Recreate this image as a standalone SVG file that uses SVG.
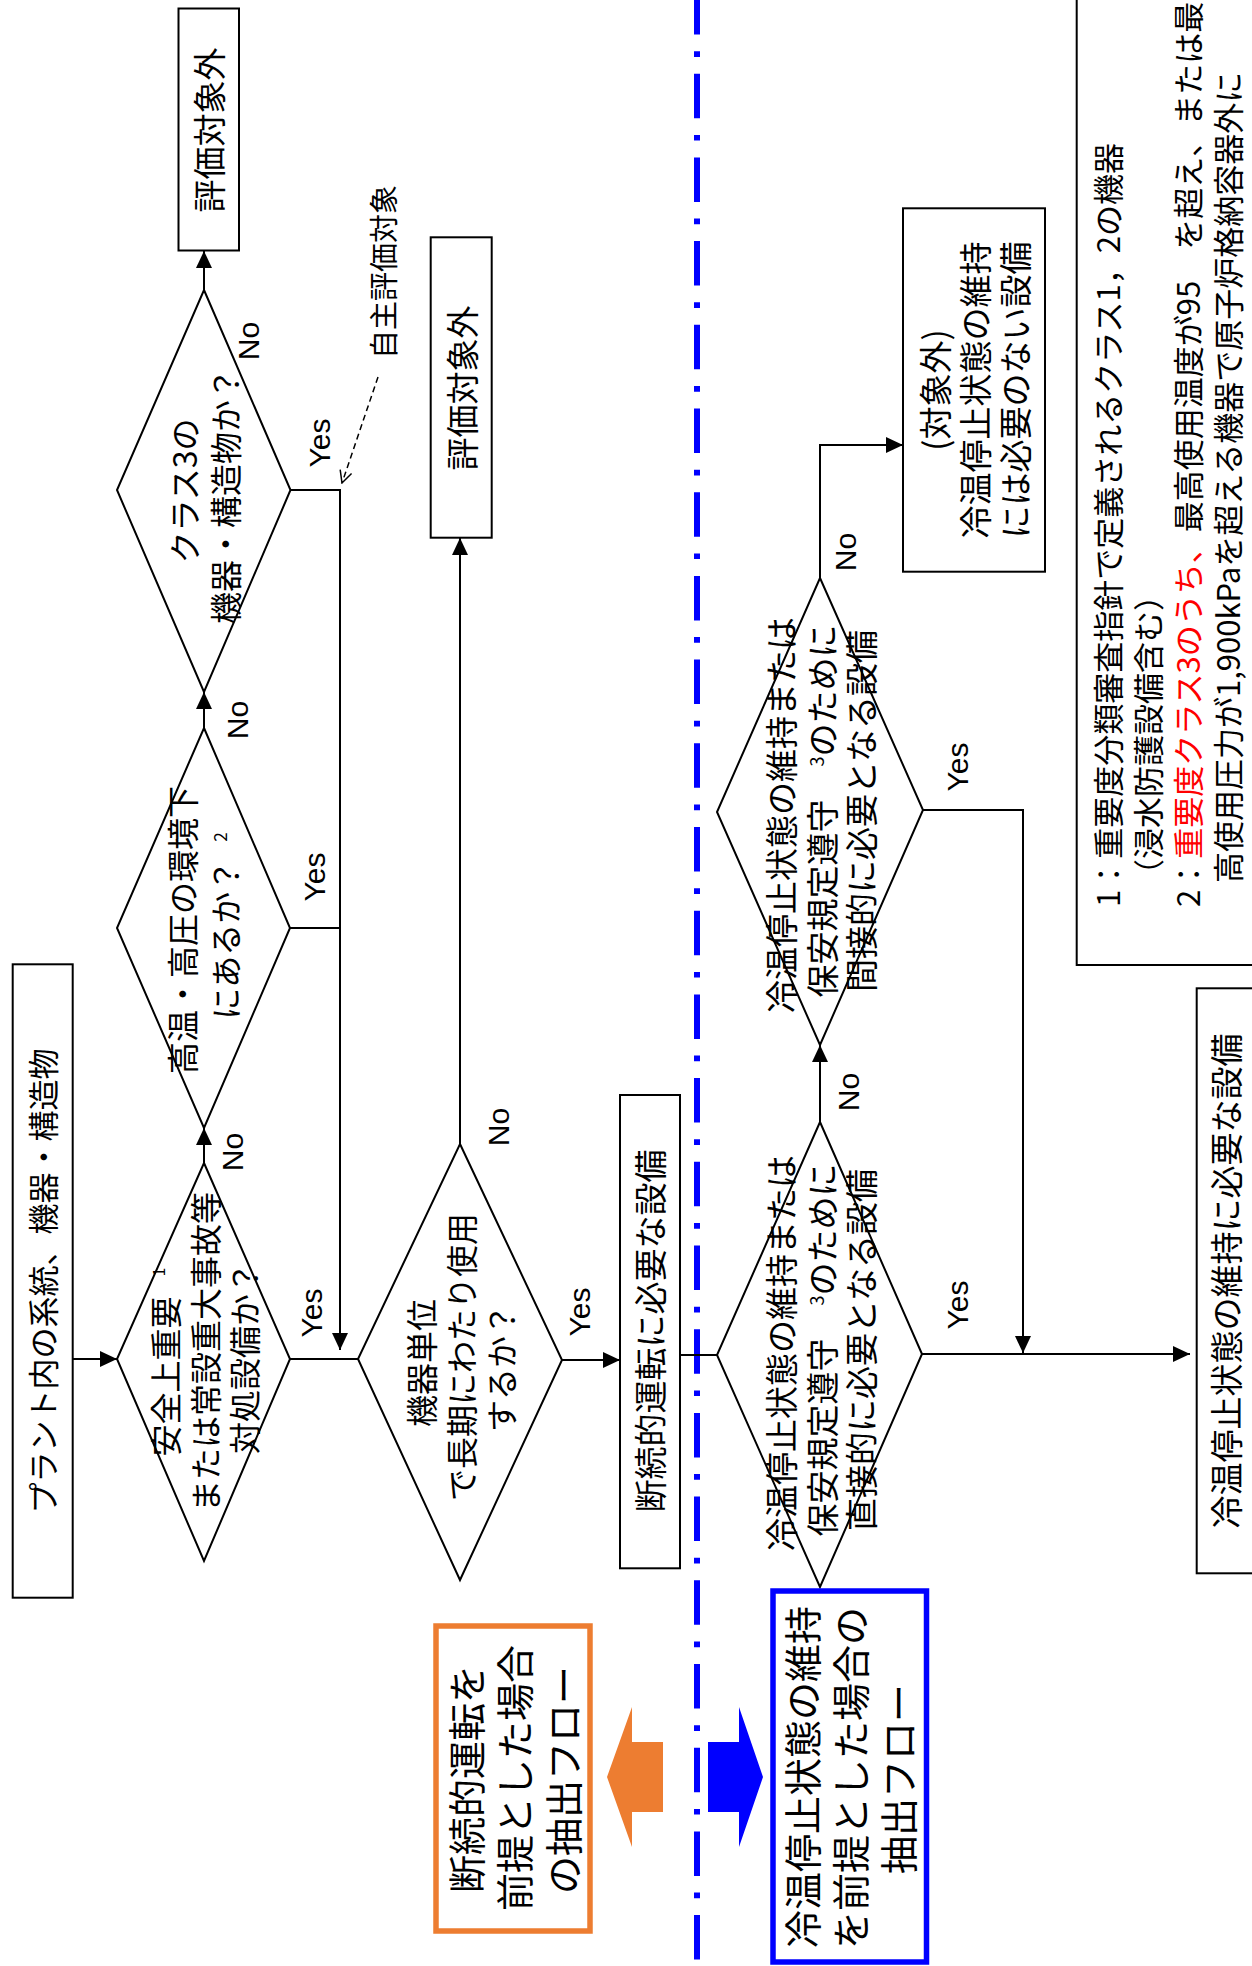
<svg xmlns="http://www.w3.org/2000/svg" width="1252" height="1966" viewBox="0 0 1252 1966">
<style>
.bx{fill:#fff;stroke:#000;stroke-width:2}
.dm{fill:#fff;stroke:#000;stroke-width:2}
.ln{fill:none;stroke:#000;stroke-width:2}
.t{font-family:"Noto Sans CJK JP","Noto Sans CJK SC",sans-serif;fill:#000;text-anchor:middle}
.s{text-anchor:start}
.f33{font-size:33px}.f32{font-size:32px}.f31{font-size:31px}.f38{font-size:38px}.f29{font-size:29px}
.yn{font-family:"Liberation Sans",Arial,sans-serif;font-size:30px;text-anchor:middle;fill:#000}
.red{fill:#ff0000}
</style>
<defs>
<marker id="ah" markerWidth="17" markerHeight="16" refX="17" refY="8" orient="auto" markerUnits="userSpaceOnUse"><path d="M0,0 L17,8 L0,16 z" fill="#000"/></marker>
<marker id="oh" markerWidth="14" markerHeight="14" refX="13" refY="7" orient="auto" markerUnits="userSpaceOnUse"><path d="M1,1 L13,7 L1,13" fill="none" stroke="#000" stroke-width="1.5"/></marker>
</defs>
<rect width="1252" height="1966" fill="#fff"/>

<g id="separator"><line x1="697" y1="-10" x2="697" y2="1960" stroke="#0000ff" stroke-width="6" stroke-dasharray="44.5 16.7 5.7 16.8"/></g>

<g id="connectors">
<path class="ln" d="M72.7,1359 L117,1359" marker-end="url(#ah)"/>
<path class="ln" d="M204,1163 L204,1128" marker-end="url(#ah)"/>
<path class="ln" d="M204,728 L204,692" marker-end="url(#ah)"/>
<path class="ln" d="M204,290 L204,251" marker-end="url(#ah)"/>
<path class="ln" d="M290.5,490 L340,490 L340,1350" marker-end="url(#ah)"/>
<path class="ln" d="M290,928 L340,928"/>
<path class="ln" d="M290,1359 L358,1359"/>
<path class="ln" d="M460,1144 L460,538" marker-end="url(#ah)"/>
<path class="ln" d="M562,1360 L620,1360" marker-end="url(#ah)"/>
<path class="ln" d="M680,1355 L717,1355"/>
<path class="ln" d="M820,1122 L820,1045" marker-end="url(#ah)"/>
<path class="ln" d="M820,578 L820,445 L903,445" marker-end="url(#ah)"/>
<path class="ln" d="M923,810 L1023,810 L1023,1353" marker-end="url(#ah)"/>
<path class="ln" d="M922,1354 L1190,1354" marker-end="url(#ah)"/>
<path d="M378,377 L342,483" fill="none" stroke="#000" stroke-width="1.5" stroke-dasharray="6 4" marker-end="url(#oh)"/>
<text class="yn" transform="translate(248,341) rotate(-90)" y="10.5">No</text>
<text class="yn" transform="translate(319,443) rotate(-90)" y="10.5">Yes</text>
<text class="yn" transform="translate(237,720) rotate(-90)" y="10.5">No</text>
<text class="yn" transform="translate(314,877) rotate(-90)" y="10.5">Yes</text>
<text class="yn" transform="translate(232,1152) rotate(-90)" y="10.5">No</text>
<text class="yn" transform="translate(311,1313) rotate(-90)" y="10.5">Yes</text>
<text class="yn" transform="translate(498,1127) rotate(-90)" y="10.5">No</text>
<text class="yn" transform="translate(579,1312) rotate(-90)" y="10.5">Yes</text>
<text class="yn" transform="translate(848,1092) rotate(-90)" y="10.5">No</text>
<text class="yn" transform="translate(957,1305) rotate(-90)" y="10.5">Yes</text>
<text class="yn" transform="translate(845,552) rotate(-90)" y="10.5">No</text>
<text class="yn" transform="translate(957,767) rotate(-90)" y="10.5">Yes</text>
<text class="t f29" transform="translate(384,272) rotate(-90)" y="11">自主評価対象</text>
</g>

<g id="n-plant">
<rect class="bx" x="12.7" y="964.3" width="60" height="633.4"/>
<text class="t f31" transform="translate(43,1281) rotate(-90)" y="11.8">プラント内の系統、機器・構造物</text>
</g>

<g id="d-safety">
<polygon class="dm" points="204,1163 290,1359 204,1561 117,1359"/>
<text class="t f32" transform="translate(166,1362) rotate(-90)" y="12.2">安全上重要<tspan dx="20" dy="-13" font-size="16">1</tspan></text>
<text class="t f32" transform="translate(206,1352) rotate(-90)" y="12.2">または常設重大事故等</text>
<text class="t f32" transform="translate(245,1358) rotate(-90)" y="12.2">対処設備か？</text>
</g>

<g id="d-hightemp">
<polygon class="dm" points="204,728 290,928 204,1128 117,928"/>
<text class="t f32" transform="translate(183,930) rotate(-90)" y="12.2">高温・高圧の環境下</text>
<text class="t f32" transform="translate(226,926) rotate(-90)" y="12.2">にあるか？<tspan dx="18" dy="-11" font-size="17">2</tspan></text>
</g>

<g id="d-class3">
<polygon class="dm" points="204,290 290.5,490 204,692 117,490"/>
<text class="t f32" transform="translate(185,491) rotate(-90)" y="12.2">クラス3の</text>
<text class="t f32" transform="translate(226,496) rotate(-90)" y="12.2">機器・構造物か？</text>
</g>

<g id="n-out1">
<rect class="bx" x="178.5" y="8.5" width="60.5" height="242"/>
<text class="t f33" transform="translate(209,130) rotate(-90)" y="12.5">評価対象外</text>
</g>

<g id="n-out2">
<rect class="bx" x="430.7" y="237.3" width="61" height="300.4"/>
<text class="t f33" transform="translate(462,388) rotate(-90)" y="12.5">評価対象外</text>
</g>

<g id="d-longterm">
<polygon class="dm" points="460,1144 562,1360 460,1580 358,1359"/>
<text class="t f32" transform="translate(422,1363) rotate(-90)" y="12.2">機器単位</text>
<text class="t f32" transform="translate(462,1357) rotate(-90)" y="12.2">で長期にわたり使用</text>
<text class="t f32" transform="translate(502,1368) rotate(-90)" y="12.2">するか？</text>
</g>

<g id="n-intermittent">
<rect class="bx" x="620" y="1095" width="60" height="473.3"/>
<text class="t f33" transform="translate(650,1331) rotate(-90)" y="12.5">断続的運転に必要な設備</text>
</g>

<g id="d-cold-indirect">
<polygon class="dm" points="820,578 923,810 820,1045 717,812"/>
<text class="t f33" transform="translate(781,815) rotate(-90)" y="12.5">冷温停止状態の維持または</text>
<text class="t f33" transform="translate(822,811) rotate(-90)" y="12.5">保安規定遵守　<tspan dy="-11" font-size="18">3</tspan><tspan dy="11">のために</tspan></text>
<text class="t f33" transform="translate(861,811) rotate(-90)" y="12.5">間接的に必要となる設備</text>
</g>

<g id="d-cold-direct">
<polygon class="dm" points="820,1122 922,1354 820,1587 717,1355"/>
<text class="t f33" transform="translate(781,1353) rotate(-90)" y="12.5">冷温停止状態の維持または</text>
<text class="t f33" transform="translate(822,1350) rotate(-90)" y="12.5">保安規定遵守　<tspan dy="-11" font-size="18">3</tspan><tspan dy="11">のために</tspan></text>
<text class="t f33" transform="translate(861,1350) rotate(-90)" y="12.5">直接的に必要となる設備</text>
</g>

<g id="n-out-cold">
<rect class="bx" x="903" y="208.3" width="142" height="363.4"/>
<text class="t f33" transform="translate(935,390) rotate(-90)" y="12.5">(対象外)</text>
<text class="t f33" transform="translate(975,390) rotate(-90)" y="12.5">冷温停止状態の維持</text>
<text class="t f33" transform="translate(1015,390) rotate(-90)" y="12.5">には必要のない設備</text>
</g>

<g id="n-cold-required">
<rect class="bx" x="1196.7" y="988.3" width="80" height="585"/>
<text class="t f33" transform="translate(1226,1281) rotate(-90)" y="12.5">冷温停止状態の維持に必要な設備</text>
</g>

<g id="n-notes">
<rect class="bx" x="1076.7" y="-10" width="200" height="975"/>
<text class="t s f31" transform="translate(1108,907) rotate(-90)" y="11.8">1：重要度分類審査指針で定義されるクラス1，2の機器</text>
<text class="t s f31" transform="translate(1148,890) rotate(-90)" y="11.8">（浸水防護設備含む）</text>
<text class="t s f31" transform="translate(1188,907) rotate(-90)" y="11.8">2：<tspan class="red">重要度クラス3のうち、</tspan>最高使用温度が95　を超え、または最</text>
<text class="t s f31" transform="translate(1228,883) rotate(-90)" y="11.8">高使用圧力が1,900kPaを超える機器で原子炉格納容器外に</text>
</g>

<g id="n-flow-orange">
<rect x="436" y="1626" width="154" height="305" fill="#fff" stroke="#ed7d31" stroke-width="5.5"/>
<text class="t f38" transform="translate(466.5,1779) rotate(-90)" y="14.4">断続的運転を</text>
<text class="t f38" transform="translate(515,1778) rotate(-90)" y="14.4">前提とした場合</text>
<text class="t f38" transform="translate(563.5,1780) rotate(-90)" y="14.4">の抽出フロー</text>
<polygon points="607,1777 632,1707 632,1742 663,1742 663,1812 632,1812 632,1847" fill="#ed7d31"/>
</g>

<g id="n-flow-blue">
<polygon points="708,1742 739,1742 739,1707 763,1777 739,1847 739,1812 708,1812" fill="#0000ff"/>
<rect x="773" y="1591" width="153.5" height="371" fill="#fff" stroke="#0000ff" stroke-width="5.5"/>
<text class="t f38" transform="translate(803,1777) rotate(-90)" y="14.4">冷温停止状態の維持</text>
<text class="t f38" transform="translate(851,1778) rotate(-90)" y="14.4">を前提とした場合の</text>
<text class="t f38" transform="translate(899,1779) rotate(-90)" y="14.4">抽出フロー</text>
</g>
</svg>
